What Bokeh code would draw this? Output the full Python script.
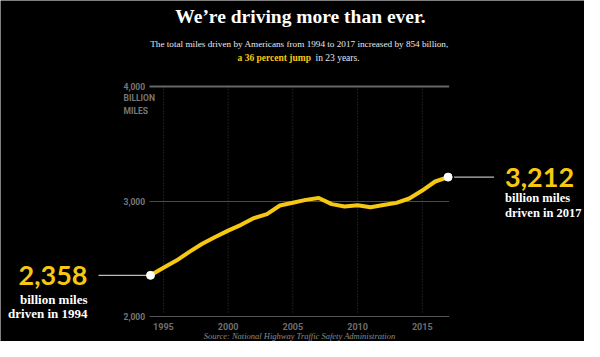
from bokeh.plotting import figure
from bokeh.models import ColumnDataSource, Range1d
from bokeh.core.properties import value
from bokeh.embed import file_html
from bokeh.resources import INLINE

# ---- data ----
years = list(range(1994, 2018))
miles = [2358, 2423, 2486, 2562, 2632, 2691, 2747, 2797, 2856, 2890, 2965, 2989,
         3014, 3031, 2977, 2957, 2967, 2950, 2969, 2988, 3026, 3095, 3174, 3212]
x_ticks = [1995, 2000, 2005, 2010, 2015]
x_tick_labels = ["1995", "2000", "2005", "2010", "2015"]
y_ticks = [2000, 3000, 4000]
y_tick_labels = ["2,000", "3,000", "4,000"]
unit_labels = ["BILLION", "MILES"]

title_text = "We\u2019re driving more than ever."
sub1 = "The total miles driven by Americans from 1994 to 2017 increased by 854 billion,"
sub2a = "a 36 percent jump"
sub2b = "in 23 years."
source_text = "Source: National Highway Traffic Safety Administration"

YELLOW = "#f6c812"
W, H = 584, 341
px_per_year = 12.94
px_per_unit = 0.115
x0 = 1994 - 150.0 / px_per_year
y1 = 4000 + 86.0 / px_per_unit
p = figure(width=W, height=H, output_backend="svg", toolbar_location=None,
           x_range=Range1d(x0, x0 + W / px_per_year),
           y_range=Range1d(y1 - H / px_per_unit, y1),
           x_axis_location=None, y_axis_location=None, min_border=0,
           background_fill_color="black", border_fill_color="black",
           outline_line_color=None)
p.grid.visible = False

def X(px):
    return x0 + px / px_per_year

def Y(py):
    return y1 - py / px_per_unit

dpx = 1.0 / px_per_year
dpy = 1.0 / px_per_unit
x_first, x_last = years[0], years[-1]
ymin, ymax = y_ticks[0], y_ticks[-1]

# vertical dotted gridlines
p.segment(x0=x_ticks, x1=x_ticks, y0=[ymax] * len(x_ticks), y1=[ymin + 3 * dpy] * len(x_ticks),
          line_color="#3a3a3a", line_width=1, line_dash="1 2")
# horizontal gridlines
p.segment(x0=[x_first - 1 * dpx] * 3, x1=[x_last + 1 * dpx] * 3, y0=y_ticks, y1=y_ticks,
          line_color=["#555555", "#4a4a4a", "#666666"], line_width=[1.2, 1.2, 2])

# y tick labels
ylab_x = x_first - 27 * dpx
p.text(x=[ylab_x] * 3, y=y_ticks, text=y_tick_labels, text_align="left",
       text_baseline="middle", text_color="#777777", text_font=value("Roboto"),
       text_font_style="bold", text_font_size="8.5px")
p.text(x=[ylab_x] * 2, y=[ymax - 11 * dpy, ymax - 24 * dpy], text=unit_labels,
       text_align="left", text_baseline="middle", text_color="#777777",
       text_font=value("Roboto"), text_font_style="bold", text_font_size="8.5px")
# x tick labels
p.text(x=x_ticks, y=[ymin - 10 * dpy] * len(x_ticks), text=x_tick_labels, text_align="center",
       text_baseline="middle", text_color="#6e6e6e", text_font=value("Roboto"),
       text_font_style="bold", text_font_size="9px")

# main line
src = ColumnDataSource(dict(x=years, y=miles))
p.line("x", "y", source=src, line_color=YELLOW, line_width=4, line_join="round", line_cap="round")

# connectors
p.segment(x0=[x_first - 52 * dpx, x_last + 6 * dpx], x1=[x_first, x_last + 46 * dpx],
          y0=[miles[0], miles[-1]], y1=[miles[0], miles[-1]],
          line_color="#bbbbbb", line_width=1.2)
p.scatter(x=[x_first, x_last], y=[miles[0], miles[-1]], size=8, fill_color="white",
          line_color="white")

# annotations
p.text(x=[x_first - 63 * dpx], y=[miles[0]], text=[f"{miles[0]:,}"], text_align="right",
       text_baseline="middle", text_color=YELLOW, text_font=value("Lato"),
       text_font_style="bold", text_font_size="27px")
p.text(x=[x_first - 63 * dpx] * 2, y=[miles[0] - 24 * dpy, miles[0] - 38 * dpy],
       text=["billion miles", f"driven in {x_first}"], text_align="right",
       text_baseline="middle", text_color="white", text_font=value("Liberation Serif"),
       text_font_style="bold", text_font_size="13px")
p.text(x=[x_last + 57 * dpx], y=[miles[-1]], text=[f"{miles[-1]:,}"], text_align="left",
       text_baseline="middle", text_color=YELLOW, text_font=value("Lato"),
       text_font_style="bold", text_font_size="27px")
p.text(x=[x_last + 57 * dpx] * 2, y=[miles[-1] - 21 * dpy, miles[-1] - 36 * dpy],
       text=["billion miles", f"driven in {x_last}"], text_align="left",
       text_baseline="middle", text_color="white", text_font=value("Liberation Serif"),
       text_font_style="bold", text_font_size="12.5px")

# titles
p.text(x=[X(300)], y=[Y(16)], text=[title_text], text_align="center",
       text_baseline="middle", text_color="white", text_font=value("Liberation Serif"),
       text_font_style="bold", text_font_size="19.5px")
p.text(x=[X(299)], y=[Y(43)], text=[sub1], text_align="center",
       text_baseline="middle", text_color="#e8e8e8", text_font=value("Liberation Serif"),
       text_font_size="9.2px")
p.text(x=[X(237)], y=[Y(57)], text=[sub2a], text_align="left",
       text_baseline="middle", text_color=YELLOW, text_font=value("Liberation Serif"),
       text_font_style="bold", text_font_size="9.5px")
p.text(x=[X(315)], y=[Y(57)], text=[sub2b], text_align="left",
       text_baseline="middle", text_color="#e8e8e8", text_font=value("Liberation Serif"),
       text_font_size="9.5px")
p.text(x=[X(299)], y=[Y(335)], text=[source_text], text_align="center",
       text_baseline="middle", text_color="#8a8a8a", text_font=value("Liberation Serif"),
       text_font_style="italic", text_font_size="8.5px")

open("out.html", "w").write(file_html(p, INLINE))
